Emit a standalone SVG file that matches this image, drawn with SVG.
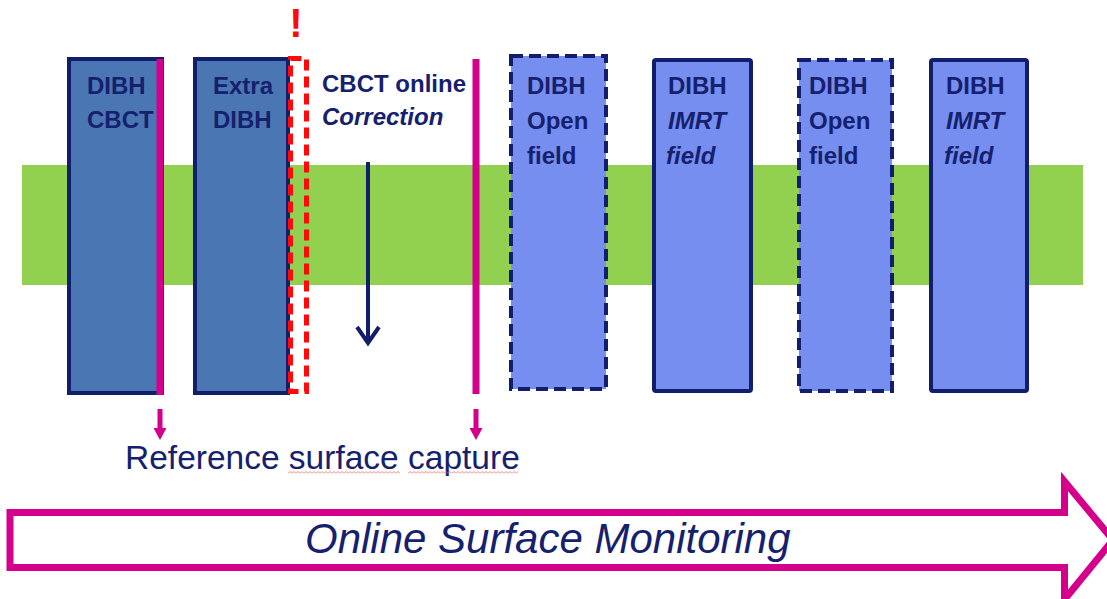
<svg xmlns="http://www.w3.org/2000/svg" width="1107" height="599" viewBox="0 0 1107 599">
<defs>
<style>
.t{font-family:"Liberation Sans",Arial,sans-serif;font-weight:bold;font-size:24px;fill:#15206E}
.i{font-style:italic}
.dark{fill:#4A77B4;stroke:#111E6C;stroke-width:4}
.light{fill:#768EEF;stroke:#111E6C;stroke-width:4}
.dash{stroke-dasharray:12 6}
.mag{stroke:#D4008C;fill:none}
</style>
<pattern id="sq" width="4" height="3" patternUnits="userSpaceOnUse">
<path d="M0 2.5 L2 0.5 L4 2.5" stroke="#F06060" fill="none" stroke-width="0.8"/>
</pattern>
</defs>
<rect width="1107" height="599" fill="#FFFFFF"/>
<g id="band"><rect x="22" y="165" width="1061" height="120" fill="#92D050"/></g>

<g id="n1"><rect class="dark" x="69" y="59" width="93" height="334"/>
<text class="t" x="87" y="94">DIBH</text><text class="t" x="87" y="128">CBCT</text></g>

<g id="n2"><rect class="dark" x="195" y="59" width="93" height="334"/>
<text class="t" x="213" y="94">Extra</text><text class="t" x="213" y="128">DIBH</text></g>

<g id="n3"><rect x="290.5" y="58.5" width="16" height="333" fill="none" stroke="#FF0A0A" stroke-width="5" stroke-dasharray="11 6"/>
<text x="296" y="37" text-anchor="middle" font-family="Liberation Sans,Arial,sans-serif" font-weight="bold" font-size="40" fill="#FF0A0A">!</text></g>

<g id="n4"><text class="t" x="322" y="92">CBCT online</text><text class="t i" x="322" y="125">Correction</text></g>

<g id="n5"><rect class="light dash" x="511" y="56" width="95" height="333"/>
<text class="t" x="527" y="94">DIBH</text><text class="t" x="527" y="129">Open</text><text class="t" x="527" y="164">field</text></g>

<g id="n6"><rect class="light" x="654" y="60" width="97" height="331" rx="2"/>
<text class="t" x="668" y="94">DIBH</text><text class="t i" x="668" y="129">IMRT</text><text class="t i" x="666" y="164">field</text></g>

<g id="n7"><rect class="light dash" x="799" y="60" width="93" height="331"/>
<text class="t" x="809" y="94">DIBH</text><text class="t" x="809" y="129">Open</text><text class="t" x="809" y="164">field</text></g>

<g id="n8"><rect class="light" x="931" y="60" width="96" height="331" rx="2"/>
<text class="t" x="946" y="94">DIBH</text><text class="t i" x="946" y="129">IMRT</text><text class="t i" x="944" y="164">field</text></g>

<g id="connectors">
<line class="mag" x1="160" y1="59" x2="160" y2="395" stroke-width="7"/>
<line class="mag" x1="476" y1="59" x2="476" y2="394" stroke-width="7"/>
<path d="M157.5 409 H162.5 V428 H166.5 L160 440 L153.5 428 H157.5 Z" fill="#D4008C"/>
<path d="M473.5 409 H478.5 V428 H482.5 L476 440 L469.5 428 H473.5 Z" fill="#D4008C"/>
<line x1="368" y1="162" x2="368" y2="343" stroke="#111E6C" stroke-width="4"/>
<polyline points="357,327 368,343 379,327" fill="none" stroke="#111E6C" stroke-width="4"/>
</g>

<g id="label">
<text x="125" y="469" font-family="Liberation Sans,Arial,sans-serif" font-size="33.5" fill="#15206E">Reference surface capture</text>
<rect x="288" y="471" width="112" height="3" fill="url(#sq)"/>
<rect x="408" y="471" width="110" height="3" fill="url(#sq)"/>
</g>

<g id="monitoring">
<path d="M10 512.5 H1064.5 V481.5 L1113 540 L1064.5 599.5 V567.5 H10 Z" fill="#FFFFFF" stroke="#D4008C" stroke-width="7"/>
<text x="305" y="553" font-family="Liberation Sans,Arial,sans-serif" font-style="italic" font-size="42" fill="#15206E">Online Surface Monitoring</text>
</g>
</svg>
